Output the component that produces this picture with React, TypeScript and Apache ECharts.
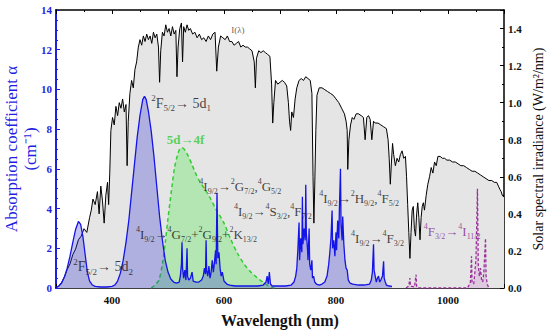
import React, { useEffect, useRef } from 'react';
import * as echarts from 'echarts';

const FONT = '"Liberation Serif","Times New Roman",serif';

// Solar spectral irradiance I(λ) [nm, W/m²/nm]
const solarSpectrum: [number, number][] = [
  [300, 0.0], [305, 0.01], [310, 0.03], [315, 0.06], [320, 0.1], [325, 0.13], [330, 0.18], [335, 0.21],
  [340, 0.26], [345, 0.28], [350, 0.32], [355, 0.3], [360, 0.38], [363, 0.42], [366, 0.48], [370, 0.45],
  [374, 0.52], [377, 0.4], [380, 0.55], [383, 0.47], [386, 0.35], [389, 0.5], [392, 0.57], [394, 0.45],
  [396, 0.62], [398, 0.85], [401, 0.92], [404, 0.88], [407, 0.98], [410, 0.93], [413, 1.0], [416, 0.97],
  [419, 1.02], [422, 0.95], [425, 0.99], [427, 0.66], [429, 0.9], [432, 1.05], [435, 1.12], [438, 1.08],
  [441, 1.18], [444, 1.22], [447, 1.3], [450, 1.34], [453, 1.31], [456, 1.36], [459, 1.33], [462, 1.37],
  [465, 1.34], [468, 1.36], [471, 1.32], [474, 1.38], [477, 1.35], [480, 1.37], [483, 1.3], [485, 1.11],
  [487, 1.28], [490, 1.38], [493, 1.36], [496, 1.42], [499, 1.38], [502, 1.4], [505, 1.36], [508, 1.41],
  [511, 1.37], [514, 1.39], [516, 1.14], [518, 1.3], [521, 1.4], [524, 1.43], [526, 1.22], [528, 1.41],
  [531, 1.38], [534, 1.42], [537, 1.39], [540, 1.4], [544, 1.37], [548, 1.38], [552, 1.35], [556, 1.37],
  [560, 1.34], [564, 1.35], [568, 1.33], [572, 1.36], [576, 1.34], [580, 1.37], [584, 1.38], [587, 1.17],
  [590, 1.3], [594, 1.36], [598, 1.35], [602, 1.34], [606, 1.36], [610, 1.33], [614, 1.33], [618, 1.31],
  [622, 1.32], [626, 1.33], [630, 1.3], [634, 1.31], [638, 1.3], [642, 1.3], [646, 1.29], [650, 1.28],
  [654, 1.22], [656, 1.08], [658, 1.24], [662, 1.28], [666, 1.27], [670, 1.28], [674, 1.27], [678, 1.26],
  [682, 1.25], [685, 1.1], [687, 0.89], [689, 1.0], [692, 1.12], [696, 1.1], [700, 1.11], [704, 1.12],
  [708, 1.11], [712, 1.09], [715, 1.0], [717, 0.9], [719, 0.85], [721, 0.95], [724, 0.92], [727, 1.02],
  [730, 1.08], [734, 1.12], [738, 1.13], [742, 1.12], [746, 1.14], [750, 1.13], [754, 1.12], [757, 1.05],
  [759, 0.6], [760.5, 0.35], [762, 0.55], [764, 0.85], [766, 1.04], [770, 1.08], [775, 1.08], [780, 1.07],
  [785, 1.06], [790, 1.05], [795, 1.04], [800, 1.02], [805, 1.0], [810, 0.97], [815, 0.94], [818, 0.9],
  [820, 0.85], [821, 0.64], [823, 0.8], [826, 0.88], [829, 0.92], [832, 0.91], [836, 0.94], [840, 0.94],
  [845, 0.93], [849, 0.92], [852, 0.8], [855, 0.92], [858, 0.93], [861, 0.91], [864, 0.8], [867, 0.9],
  [870, 0.89], [875, 0.89], [880, 0.88], [885, 0.87], [890, 0.86], [893, 0.8], [895, 0.7], [897, 0.56],
  [899, 0.68], [901, 0.78], [903, 0.72], [906, 0.66], [909, 0.7], [912, 0.68], [915, 0.72], [918, 0.74],
  [921, 0.7], [924, 0.71], [926, 0.6], [928, 0.45], [930, 0.3], [932, 0.16], [934, 0.3], [936, 0.42],
  [938, 0.44], [940, 0.32], [942, 0.28], [944, 0.4], [946, 0.46], [948, 0.38], [950, 0.26], [952, 0.38],
  [954, 0.44], [956, 0.46], [958, 0.42], [961, 0.5], [964, 0.56], [967, 0.6], [970, 0.65], [973, 0.62],
  [976, 0.68], [979, 0.66], [982, 0.71], [986, 0.71], [990, 0.7], [994, 0.7], [998, 0.69], [1003, 0.69],
  [1008, 0.68], [1013, 0.68], [1018, 0.67], [1023, 0.66], [1028, 0.66], [1033, 0.65], [1038, 0.64],
  [1043, 0.63], [1048, 0.63], [1053, 0.62], [1058, 0.61], [1063, 0.6], [1068, 0.59], [1073, 0.58],
  [1078, 0.58], [1083, 0.57], [1087, 0.57], [1090, 0.55], [1093, 0.53], [1095, 0.52], [1097, 0.5], [1100, 0.49],
];

// Absorption coefficient α (cm⁻¹): Ce³⁺ 4f→5d bands and Nd³⁺ lines
const absorption: [number, number][] = [
  [300, 0.05], [305, 0.1], [310, 0.25], [315, 0.55], [320, 1.0], [325, 1.6], [330, 2.3], [335, 2.95],
  [340, 3.35], [344, 3.2], [348, 2.6], [352, 1.7], [356, 0.8], [360, 0.35], [365, 0.15], [370, 0.08],
  [380, 0.05], [390, 0.05], [400, 0.08], [405, 0.15], [410, 0.35], [415, 0.75], [420, 1.4], [425, 2.3],
  [430, 3.4], [435, 4.8], [440, 6.2], [445, 7.6], [450, 8.7], [455, 9.5], [458, 9.65], [461, 9.5],
  [465, 8.9], [470, 7.9], [475, 6.6], [480, 5.1], [485, 3.6], [490, 2.4], [495, 1.4], [500, 0.8],
  [505, 0.45], [510, 0.3], [515, 0.25], [520, 0.3], [522, 0.6], [524, 1.2], [525, 2.3], [526, 1.0],
  [528, 0.5], [530, 0.9], [532, 0.4], [534, 2.0], [535, 0.6], [537, 0.4], [540, 0.5], [543, 0.8],
  [545, 0.35], [550, 0.3], [555, 0.3], [560, 0.4], [563, 0.6], [565, 1.0], [567, 0.7], [568, 2.4],
  [569, 0.9], [571, 0.6], [573, 1.1], [575, 0.5], [577, 0.8], [579, 1.4], [581, 0.8], [583, 1.3],
  [585, 1.9], [586, 1.2], [587.5, 4.8], [589, 1.5], [591, 1.8], [593, 1.0], [595, 0.6], [597, 0.8],
  [600, 0.35], [605, 0.2], [610, 0.15], [620, 0.1], [630, 0.1], [640, 0.1], [650, 0.1], [660, 0.1],
  [670, 0.15], [675, 0.3], [677, 0.6], [679, 0.2], [681, 0.8], [683, 0.2], [686, 0.1], [700, 0.1],
  [710, 0.1], [720, 0.15], [725, 0.3], [728, 0.6], [730, 1.0], [732, 2.0], [734, 3.3], [735, 1.4],
  [737, 2.5], [739, 1.8], [740, 4.6], [741, 2.2], [743, 3.0], [745, 2.4], [746, 5.2], [747, 2.8],
  [749, 2.0], [750, 1.4], [752, 3.0], [753, 1.2], [755, 0.9], [757, 1.4], [758, 0.5], [760, 0.6],
  [762, 0.3], [765, 0.2], [770, 0.15], [775, 0.2], [780, 0.3], [784, 0.6], [787, 1.2], [789, 1.8],
  [791, 2.5], [793, 3.9], [794, 2.0], [796, 2.4], [798, 1.6], [800, 2.8], [801, 1.9], [803, 3.4],
  [805, 2.5], [806, 3.9], [808, 6.0], [809, 3.2], [811, 2.4], [812, 3.6], [814, 2.2], [816, 1.4],
  [818, 1.0], [820, 0.9], [822, 0.4], [825, 0.25], [830, 0.2], [840, 0.15], [850, 0.15], [860, 0.2],
  [863, 0.4], [865, 0.8], [867, 2.2], [868, 0.9], [870, 0.6], [872, 0.3], [874, 0.5], [876, 0.6],
  [878, 0.3], [880, 0.4], [883, 0.6], [885, 1.35], [886, 0.5], [888, 0.3], [890, 0.15], [895, 0.1], [900, 0.08],
];

// Ce³⁺ 5d→4f emission band (green dashed)
const emission5d4f: [number, number][] = [
  [470, 0.0], [475, 0.1], [480, 0.25], [484, 0.4], [490, 1.2], [495, 2.26], [500, 3.5], [507, 5.1],
  [512, 6.1], [517, 6.7], [521, 7.0], [525, 7.06], [530, 6.95], [537, 6.6], [543, 6.2], [549, 5.8],
  [556, 5.4], [565, 5.0], [574, 4.6], [585, 4.0], [600, 3.27], [612, 2.45], [624, 1.75], [636, 1.2],
  [648, 0.8], [660, 0.5], [669, 0.3], [680, 0.1], [690, 0.0],
];

// Nd³⁺ ⁴F3/2→⁴I11/2 emission (purple dashed)
const emissionNd: [number, number][] = [
  [925, 0], [930, 0.1], [932, 0.5], [933, 0.1], [940, 0.05], [943, 0.67], [944, 0.05], [950, 0],
  [1035, 0], [1040, 0.3], [1042, 1.6], [1043, 0.3], [1046, 0.2], [1048, 0.8], [1050, 1.5], [1052.6, 5.0],
  [1054, 1.2], [1056, 0.6], [1058, 1.0], [1060, 0.4], [1062, 0.3], [1064, 0.8], [1067, 2.5], [1068, 0.6],
  [1070, 0.2], [1073, 0],
];

const xTickLabels = [400, 600, 800, 1000];

// annotations: [λ, α, rich text, color, size, bold]
const annotations: [number, number, string, string, number, boolean][] = [
  [612, 13.0, '{n|I(λ)}', '#333333', 9, false],
  [469, 9.3, '{sp|2}{n|F}{sb|5/2}{n|→ 5d}{sb|1}', '#111111', 14, false],
  [497, 7.48, '{n|5d→4f}', '#33cc33', 13, true],
  [555, 5.12, '{sp|4}{n|I}{sb|9/2}{n|→}{sp|2}{n|G}{sb|7/2}{n|,}{sp|4}{n|G}{sb|5/2}', '#111111', 13, false],
  [617, 3.86, '{sp|4}{n|I}{sb|9/2}{n|→}{sp|4}{n|S}{sb|3/2}{n|,}{sp|4}{n|F}{sb|7/2}', '#111111', 13, false],
  [442, 2.68, '{sp|4}{n|I}{sb|9/2}{n|→}{sp|4}{n|G}{sb|7/2}{n|+}{sp|2}{n|G}{sb|9/2}{n|+}{sp|2}{n|K}{sb|13/2}', '#111111', 13, false],
  [330, 1.08, '{sp|2}{n|F}{sb|5/2}{n|→ 5d}{sb|2}', '#111111', 14, false],
  [769, 4.53, '{sp|4}{n|I}{sb|9/2}{n|→}{sp|2}{n|H}{sb|9/2}{n|,}{sp|4}{n|F}{sb|5/2}', '#111111', 13, false],
  [826, 2.51, '{sp|4}{n|I}{sb|9/2}{n|→}{sp|4}{n|F}{sb|3/2}', '#111111', 13, false],
  [956, 2.85, '{sp|4}{n|F}{sb|3/2}{n|→}{sp|4}{n|I}{sb|11/2}', '#7d2a8e', 13, false],
];

function makeRich(color: string, size: number, bold: boolean) {
  const small = Math.round(size * 0.62);
  const fw = bold ? 'bold' : 'normal';
  const common = { color, fontFamily: FONT, textBorderWidth: 0, textBorderColor: 'transparent', textShadowBlur: 0 };
  return {
    n: { ...common, fontSize: size, lineHeight: size + 5, fontWeight: fw },
    sp: { ...common, fontSize: small, lineHeight: small, verticalAlign: 'top' },
    sb: { ...common, fontSize: small, lineHeight: small, verticalAlign: 'bottom' },
  };
}

export default function App() {
  const ref = useRef<HTMLDivElement>(null);
  useEffect(() => {
    if (!ref.current) return;
    const chart = echarts.init(ref.current, undefined, { renderer: 'svg' });
    const blue = '#1f1fe0';
    const xCommon = {
      type: 'value',
      min: 300,
      max: 1100,
      interval: 100,
      splitLine: { show: false },
      minorTick: { show: true, splitNumber: 2, length: 2, lineStyle: { color: '#000' } },
      axisTick: { show: true, inside: true, length: 4, lineStyle: { color: '#000' } },
      axisLine: { show: true, onZero: false, lineStyle: { color: '#000', width: 1.5 } },
    };
    chart.setOption({
      animation: false,
      backgroundColor: '#ffffff',
      grid: { left: 56, right: 46, top: 10, bottom: 45, containLabel: false, outerBoundsMode: 'none' },
      xAxis: [
        {
          ...xCommon,
          position: 'bottom',
          name: 'Wavelength (nm)',
          nameLocation: 'middle',
          nameGap: 24,
          nameMoveOverlap: false,
          nameTextStyle: { fontFamily: FONT, fontSize: 16, fontWeight: 'bold', color: '#111' },
          axisLabel: {
            margin: 6,
            fontFamily: FONT,
            fontSize: 11,
            fontWeight: 'bold',
            color: '#111',
            formatter: (v: number) => (xTickLabels.includes(v) ? String(v) : ''),
          },
        },
        { ...xCommon, position: 'top', axisLabel: { show: false } },
      ],
      yAxis: [
        {
          type: 'value',
          min: 0,
          max: 14,
          interval: 2,
          position: 'left',
          name: 'Absorption coefficient α\n(cm⁻¹)',
          nameLocation: 'middle',
          nameRotate: 90,
          nameGap: 16,
          nameMoveOverlap: false,
          nameTextStyle: { fontFamily: FONT, fontSize: 17, lineHeight: 19, color: blue },
          splitLine: { show: false },
          axisLine: { show: true, lineStyle: { color: blue, width: 2 } },
          axisTick: { show: true, inside: true, length: 4, lineStyle: { color: blue } },
          minorTick: { show: true, splitNumber: 4, length: 2, lineStyle: { color: blue } },
          axisLabel: { margin: 4, fontFamily: FONT, fontSize: 11, fontWeight: 'bold', color: blue },
        },
        {
          type: 'value',
          min: 0,
          max: 1.5,
          interval: 0.2,
          position: 'right',
          name: 'Solar spectral irradiance (W/m²/nm)',
          nameLocation: 'middle',
          nameRotate: 90,
          nameGap: 27,
          nameMoveOverlap: false,
          nameTextStyle: { fontFamily: FONT, fontSize: 14, color: '#111' },
          splitLine: { show: false },
          axisLine: { show: true, lineStyle: { color: '#000', width: 1.5 } },
          axisTick: { show: true, inside: true, length: 4, lineStyle: { color: '#000' } },
          minorTick: { show: true, splitNumber: 2, length: 2, lineStyle: { color: '#000' } },
          axisLabel: {
            margin: 4,
            showMaxLabel: false,
            fontFamily: FONT,
            fontSize: 11,
            fontWeight: 'bold',
            color: '#111',
            formatter: (v: number) => v.toFixed(1),
          },
        },
      ],
      series: [
        {
          type: 'line',
          name: 'I(λ)',
          xAxisIndex: 0,
          yAxisIndex: 1,
          data: solarSpectrum,
          showSymbol: false,
          symbol: 'none',
          lineStyle: { color: '#000', width: 1 },
          areaStyle: { color: '#e5e5e5', opacity: 1 },
          z: 1,
        },
        {
          type: 'line',
          name: '5d→4f',
          xAxisIndex: 0,
          yAxisIndex: 0,
          data: emission5d4f,
          symbol: 'none',
          smooth: 0.3,
          lineStyle: { color: '#33cc33', width: 1.5, type: [4, 3] },
          areaStyle: { color: 'rgba(110,232,110,0.6)' },
          z: 2,
        },
        {
          type: 'line',
          name: 'absorption',
          xAxisIndex: 0,
          yAxisIndex: 0,
          data: absorption,
          symbol: 'none',
          lineStyle: { color: '#1414e6', width: 1.3 },
          areaStyle: { color: 'rgba(50,50,215,0.42)' },
          z: 3,
        },
        {
          type: 'line',
          name: 'Nd emission',
          xAxisIndex: 0,
          yAxisIndex: 0,
          data: emissionNd,
          symbol: 'none',
          lineStyle: { color: '#9b2f9b', width: 1.3, type: [3, 2] },
          areaStyle: { color: 'rgba(200,120,200,0.35)' },
          z: 4,
        },
        {
          type: 'scatter',
          xAxisIndex: 0,
          yAxisIndex: 0,
          symbolSize: 1,
          itemStyle: { color: 'rgba(0,0,0,0)' },
          silent: true,
          z: 10,
          data: annotations.map(([x, y, t, c, s, b]) => ({
            value: [x, y],
            label: {
              show: true,
              position: 'right',
              distance: 0,
              color: c,
              textBorderWidth: 0,
              textBorderColor: 'transparent',
              formatter: t,
              rich: makeRich(c, s, b),
            },
          })),
        },
      ],
    });
    return () => chart.dispose();
  }, []);
  return <div ref={ref} style={{ position: 'fixed', left: 0, top: 0, width: 550, height: 333 }} />;
}
